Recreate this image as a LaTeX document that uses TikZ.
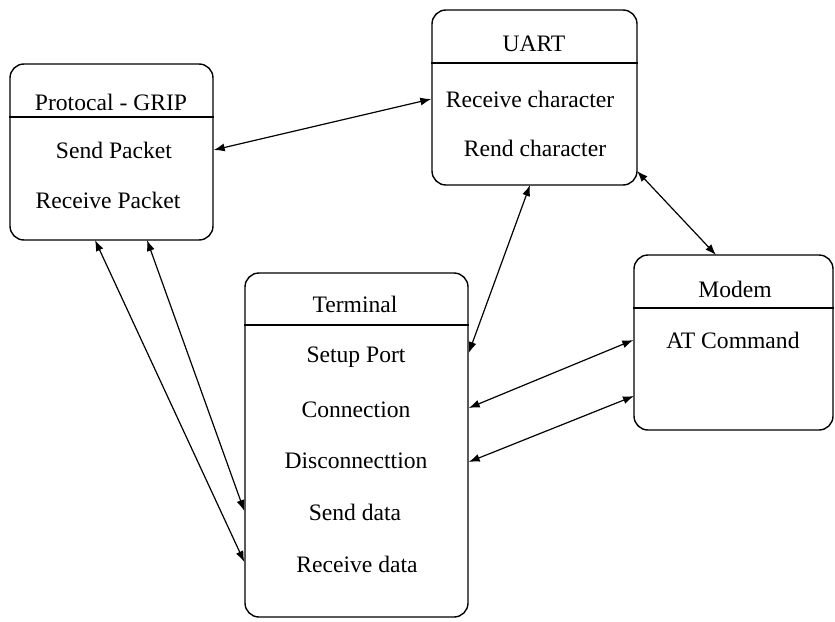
\documentclass[tikz,border=0pt]{standalone}
\usepackage{fontspec}
\setmainfont{Liberation Serif}
\usetikzlibrary{arrows.meta,fit}
\begin{document}
\begin{tikzpicture}[x=0.5pt,y=-0.5pt,
  box/.style={draw,line width=0.7pt,rounded corners=7pt,inner sep=0pt},
  sep/.style={line width=0.7pt},
  lbl/.style={font=\fontsize{11.8}{14}\selectfont,inner sep=0pt,anchor=center},
  link/.style={line width=0.6pt,{Latex[length=5.5pt,width=4pt]}-{Latex[length=5.5pt,width=4pt]}}]
\useasboundingbox (0,0) rectangle (835,621);

% class boxes
\node[box,fit={(10,64) (213,240)}] (proto) {};
\node[box,fit={(432,10) (637,185)}] (uart) {};
\node[box,fit={(634,255) (833,430)}] (modem) {};
\node[box,fit={(245,273) (468,617)}] (term) {};

% header separators
\draw[sep] (proto.west |- 0,117) -- (proto.east |- 0,117);
\draw[sep] (uart.west |- 0,63) -- (uart.east |- 0,63);
\draw[sep] (modem.west |- 0,308) -- (modem.east |- 0,308);
\draw[sep] (term.west |- 0,325) -- (term.east |- 0,325);

% Protocal - GRIP
\node[lbl] (protoT) at (111,102) {Protocal - GRIP};
\node[lbl] (sendpk) at (114,150) {Send Packet};
\node[lbl] (recvpk) at (108,200) {Receive Packet};

% UART
\node[lbl] (uartT) at (534,44) {UART};
\node[lbl] (recvch) at (530,99) {Receive character};
\node[lbl] (rendch) at (535,148) {Rend character};

% Modem
\node[lbl] (modemT) at (735,289) {Modem};
\node[lbl] (atcmd) at (733,340) {AT Command};

% Terminal
\node[lbl] (termT) at (355,304) {Terminal};
\node[lbl] (setup) at (356,357) {Setup Port};
\node[lbl] (conn) at (356,410) {Connection};
\node[lbl] (disc) at (356,461) {Disconnecttion};
\node[lbl] (sendd) at (355,512) {Send data};
\node[lbl] (recvd) at (357,564) {Receive data};

% free connector ends on box borders
\coordinate (pA) at (95,240);
\coordinate (pB) at (147,240);
\coordinate (uB) at (530,185);
\coordinate (uC) at (637,171);
\coordinate (mT) at (716,255);
\coordinate (mL) at (634,396);

% connectors
\draw[link] (proto.east |- sendpk) -- (uart.west |- recvch);
\draw[link] (pA) -- (term.west |- 0,562);
\draw[link] (pB) -- (term.west |- 0,511);
\draw[link] (uB) -- (term.east |- 0,353);
\draw[link] (uC) -- (mT);
\draw[link] (term.east |- 0,408) -- (modem.west |- atcmd);
\draw[link] (term.east |- 0,462) -- (mL);
\end{tikzpicture}
\end{document}
